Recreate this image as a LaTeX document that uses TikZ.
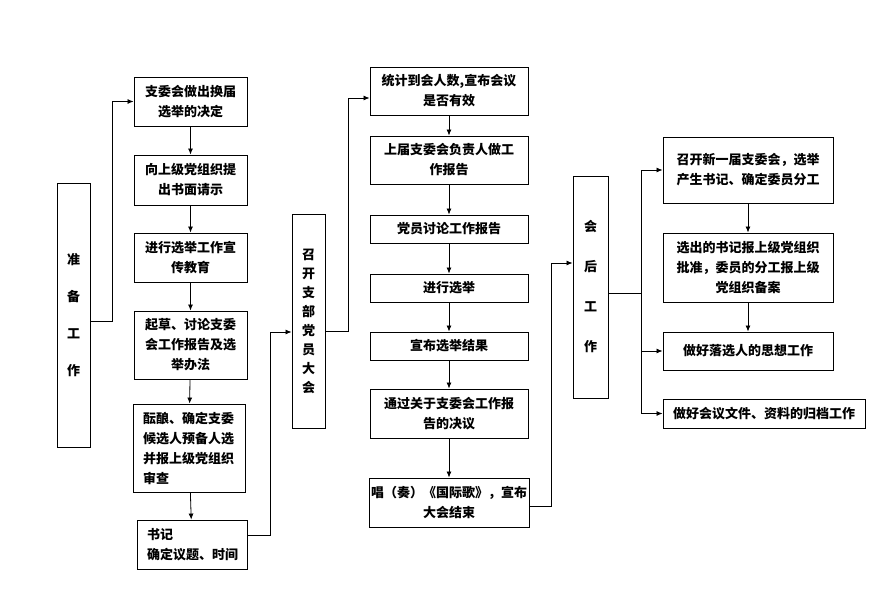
\documentclass[tikz,border=0pt]{standalone}
\usepackage{fontspec}
\setmainfont{Noto Sans CJK SC}
\usetikzlibrary{arrows.meta}

\begin{document}
\begin{tikzpicture}[x=1pt,y=-1pt,
	box/.style={draw, line width=0.9pt, align=center, inner sep=2pt, font=\bfseries\fontsize{13}{20}\selectfont},
	leftbox/.style={box, align=left, inner xsep=10pt},
	tallbox/.style={box, font=\bfseries\fontsize{13}{#1}\selectfont},
	link/.style={line width=0.8pt, -{Latex[length=6pt,width=5pt]}}]

	\useasboundingbox (0,0) rectangle (895,592);

	\def\lx{190.5}
	\def\mx{449}
	\def\rx{748}

	% Preparation column
	\node[tallbox=37, minimum width=33, minimum height=264] (p) at (73.5,315) {准\\备\\工\\作};
	\node[box, minimum width=113, minimum height=49] (l1) at (\lx,101.5) {支委会做出换届\\选举的决定};
	\node[box, minimum width=113, minimum height=50] (l2) at (\lx,180) {向上级党组织提\\出书面请示};
	\node[box, minimum width=113, minimum height=49] (l3) at (\lx,257.5) {进行选举工作宣\\传教育};
	\node[box, minimum width=113, minimum height=68] (l4) at (\lx,345) {起草、讨论支委\\会工作报告及选\\举办法};
	\node[leftbox, text width=92, minimum height=88] (l5) at (189,448) {酝酿、确定支委\\候选人预备人选\\并报上级党组织\\审查};
	\node[leftbox, text width=90, minimum height=49] (l6) at (192,544.5) {书记\\确定议题、时间};

	% Meeting column
	\node[tallbox=19, minimum width=33, minimum height=214] (c) at (308.5,321) {召\\开\\支\\部\\党\\员\\大\\会};
	\node[box, minimum width=158, minimum height=48] (m1) at (\mx,91) {统计到会人数,宣布会议\\是否有效};
	\node[box, minimum width=158, minimum height=48] (m2) at (\mx,160) {上届支委会负责人做工\\作报告};
	\node[box, minimum width=158, minimum height=28] (m3) at (\mx,229) {党员讨论工作报告};
	\node[box, minimum width=158, minimum height=28] (m4) at (\mx,288) {进行选举};
	\node[box, minimum width=158, minimum height=28] (m5) at (\mx,346) {宣布选举结果};
	\node[box, minimum width=158, minimum height=49] (m6) at (\mx,413.5) {通过关于支委会工作报\\告的决议};
	\node[box, minimum width=158, minimum height=49] (m7) at (\mx,502.5) {唱（奏）《国际歌》，宣布\\大会结束};

	% After-meeting column
	\node[tallbox=40, minimum width=35, minimum height=222] (h) at (590.5,287) {会\\后\\工\\作};
	\node[box, minimum width=170, minimum height=66] (r1) at (\rx,170) {召开新一届支委会，选举\\产生书记、确定委员分工};
	\node[box, minimum width=170, minimum height=69] (r2) at (\rx,267.5) {选出的书记报上级党组织\\批准，委员的分工报上级\\党组织备案};
	\node[box, minimum width=170, minimum height=38] (r3) at (\rx,351) {做好落选人的思想工作};
	\node[box, minimum width=202, minimum height=29] (r4) at (764,413.5) {做好会议文件、资料的归档工作};

	% Arrows down each column
	\foreach \a/\b in {l1/l2, l2/l3, l3/l4, l4/l5, l5/l6, m1/m2, m2/m3, m3/m4, m4/m5, m5/m6, m6/m7, r1/r2, r2/r3}
		\draw[link] (\a) -- (\b);

	% Links between columns
	\draw[link] ([yshift=-6pt]p.east) -- ++(22,0) |- (l1.west);
	\draw[link] ([yshift=9pt]l6.east) -- ++(23,0) |- ([yshift=-11pt]c.west);
	\draw[link] ([yshift=-10pt]c.east) -- ++(23,0) |- ([yshift=-7pt]m1.west);
	\draw[link] ([yshift=-4pt]m7.east) -- ++(22,0) |- ([yshift=24pt]h.west);
	\draw[line width=0.8pt] ([yshift=-6pt]h.east) -- ++(33,0) coordinate (t);
	\foreach \b in {r1, r3, r4}
		\draw[link] (t) |- (\b.west);
\end{tikzpicture}
\end{document}
